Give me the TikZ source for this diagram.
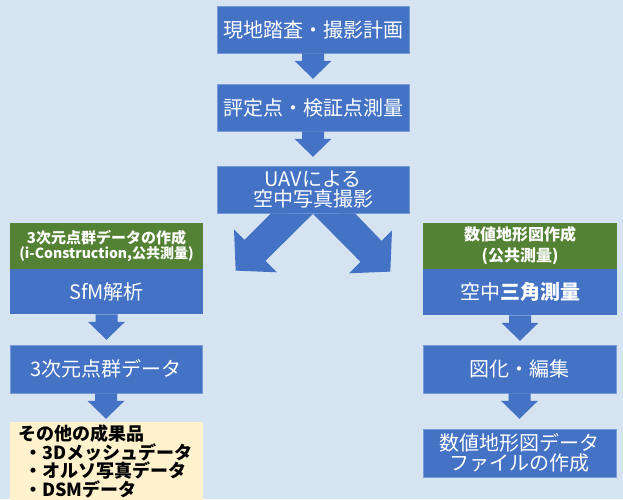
\documentclass[tikz,border=0pt]{standalone}
\usepackage{fontspec}
\usetikzlibrary{calc}
\setmainfont{Noto Sans CJK JP}
\definecolor{bg}{RGB}{214,228,242}
\definecolor{bx}{RGB}{68,114,196}
\definecolor{bxedge}{RGB}{120,155,215}
\definecolor{gr}{RGB}{84,130,53}
\definecolor{yl}{RGB}{255,242,204}
\newcommand\blockdown[1]{\fill[bx] (#1) ++(-11,0) -- ++(0,7.5) -- ++(-7.5,0) -- ++(18.5,18) -- ++(18.5,-18) -- ++(-7.5,0) -- ++(0,-7.5) -- cycle;}
\begin{document}
\begin{tikzpicture}[x=1pt,y=-1pt,
  box/.style={fill=bx, draw=bxedge, line width=0.6pt, text=white, minimum width=192pt, minimum height=47pt, inner sep=0pt, align=center, font=\fontsize{20}{20.5}\selectfont},
  hdr/.style={fill=gr, text=white, minimum width=193pt, minimum height=46pt, inner sep=0pt, align=center, font=\bfseries}]
\fill[bg] (0,0) rectangle (623,499);
\useasboundingbox (0,0) rectangle (623,499);
% center column
\node[box] (b1) at (313,29.5) {現地踏査・撮影計画};
\node[box] (b2) at (313,107.5) {評定点・検証点測量};
\node[box] (b3) at (313,189.5) {UAVによる\\空中写真撮影};
\blockdown{b1.south}
\blockdown{b2.south}
% split arrows
\fill[bx] ($(b3.south)+(-42,0)$) -- ($(b3.south)+(-68.5,26.5)$) -- ($(b3.south)+(-79,16)$) -- ($(b3.south)+(-77.3,57.3)$) -- ($(b3.south)+(-36,59)$) -- ($(b3.south)+(-47.5,47.5)$) -- ($(b3.south)+(0,0.5)$) -- cycle;
\fill[bx] ($(b3.south)+(42,0)$) -- ($(b3.south)+(68.5,27.5)$) -- ($(b3.south)+(79,17)$) -- ($(b3.south)+(77.3,58.3)$) -- ($(b3.south)+(36,60)$) -- ($(b3.south)+(47.5,48.5)$) -- ($(b3.south)+(0,0.5)$) -- cycle;
% left column
\node[hdr] (lh) at (106.5,246) {{\fontsize{15}{20}\selectfont 3次元点群データの作成}\\{\fontsize{14}{20}\selectfont (i-Construction,公共測量)}};
\node[box, draw=none, minimum width=193pt, minimum height=45pt] (l1) at (106.5,291.5) {SfM解析};
\node[box, minimum width=192pt, minimum height=48pt] (l2) at (106,369) {3次元点群データ};
\blockdown{l1.south}
\blockdown{l2.south}
\node[fill=yl, minimum width=193pt, minimum height=80pt, inner sep=0pt, anchor=north west] (yb) at (10,422) {};
\node[anchor=north west, inner sep=0pt, align=left, font=\bfseries\fontsize{18}{18.5}\selectfont] (yt) at (18,425) {その他の成果品\\\hspace{6pt}・3Dメッシュデータ\\\hspace{6pt}・オルソ写真データ\\\hspace{6pt}・DSMデータ};
% right column
\node[hdr, minimum width=194pt, font=\bfseries\fontsize{16}{21}\selectfont] (rh) at (520,246) {数値地形図作成\\(公共測量)};
\node[box, draw=none, minimum width=194pt, minimum height=46pt] (r1) at (520,292) {空中\textbf{三角測量}};
\node[box, minimum width=193pt, minimum height=48pt] (r2) at (519.5,369) {図化・編集};
\node[box, minimum width=193pt, minimum height=48pt] (r3) at (519.5,453) {数値地形図データ\\ファイルの作成};
\blockdown{r1.south}
\blockdown{r2.south}
\end{tikzpicture}
\end{document}
